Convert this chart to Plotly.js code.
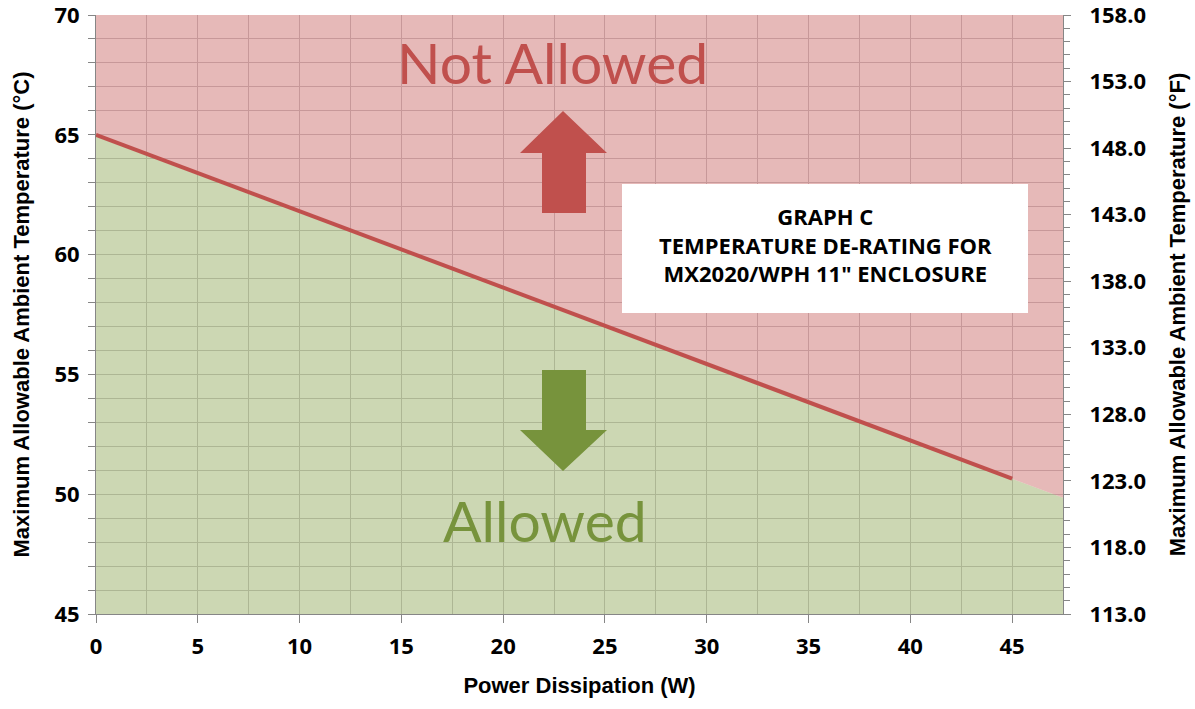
<!DOCTYPE html>
<html>
<head>
<meta charset="utf-8">
<script src="https://cdn.plot.ly/plotly-3.0.1.min.js"></script>
<style>html,body{margin:0;padding:0;background:#fff;}#chart{width:1195px;height:709px;}</style>
</head>
<body>
<div id="chart"></div>
<script>
// De-rating line (°C vs W)
var powerW = [0, 45];
var maxTempC = [65, 50.65];
// Allowed region boundary (area series extends to the axis end)
var areaPowerW = [0, 47.5];
var areaTempC = [65, 49.85];
var topTempC = [70, 70];
// Axis ranges / ticks
var xRange = [0, 47.5];
var yRangeC = [45, 70];
var yRangeF = [113, 158];
var titleLines = ["GRAPH C", "TEMPERATURE DE-RATING FOR", "MX2020/WPH 11\" ENCLOSURE"];

var maxTempF = maxTempC.map(function (c) { return c * 9 / 5 + 32; });

var tickFont = {family: "Open Sans, sans-serif", size: 22, color: "#000", weight: 700};
var axTitleFont = {family: "Liberation Sans, Arial, sans-serif", size: 22, color: "#000", weight: "bold"};
var gridC = "#BAB6BA";
var axC = "#868686";

var traces = [
  {x: areaPowerW, y: areaTempC, type: "scatter", mode: "lines", line: {width: 0}, fill: "tozeroy",
   fillcolor: "rgba(162,182,117,0.55)", hoverinfo: "skip", showlegend: false},
  {x: areaPowerW, y: topTempC, type: "scatter", mode: "lines", line: {width: 0}, fill: "tonexty",
   fillcolor: "rgba(210,128,126,0.55)", hoverinfo: "skip", showlegend: false},
  {x: powerW, y: maxTempC, type: "scatter", mode: "lines", line: {color: "#C0504D", width: 4},
   showlegend: false},
  {x: powerW, y: maxTempF, yaxis: "y2", type: "scatter", mode: "lines", line: {width: 0},
   opacity: 0, hoverinfo: "skip", showlegend: false}
];

function X(px) { return (px - 96) / (967 / 47.5); }
function Y(py) { return 70 - (py - 15) / (599 / 25); }

function upArrow() {
  var p = [[563,111],[607,153],[586,153],[586,213],[542,213],[542,153],[520,153]];
  return "M" + p.map(function (q) { return X(q[0]) + "," + Y(q[1]); }).join(" L") + " Z";
}
function downArrow() {
  var p = [[563,471],[607,430],[586,430],[586,370],[542,370],[542,430],[520,430]];
  return "M" + p.map(function (q) { return X(q[0]) + "," + Y(q[1]); }).join(" L") + " Z";
}

var layout = {
  width: 1195, height: 709,
  margin: {l: 96, r: 132, t: 15, b: 95},
  paper_bgcolor: "#fff", plot_bgcolor: "#fff",
  showlegend: false,
  xaxis: {
    range: xRange, dtick: 5, tick0: 0, showgrid: true, gridcolor: gridC, gridwidth: 1,
    minor: {dtick: 2.5, showgrid: true, gridcolor: gridC, gridwidth: 1, ticks: ""},
    ticks: "outside", ticklen: 8, tickcolor: axC, showline: true, linecolor: axC, linewidth: 1,
    zeroline: false, tickfont: tickFont, ticklabelstandoff: 5, ticklabeloverflow: "allow",
    title: {text: "<b>Power Dissipation (W)</b>", font: axTitleFont, standoff: 18}
  },
  yaxis: {
    range: yRangeC, dtick: 5, tick0: 45, showgrid: true, gridcolor: gridC, gridwidth: 1,
    minor: {dtick: 1, showgrid: true, gridcolor: gridC, gridwidth: 1, ticks: "outside", ticklen: 7, tickcolor: axC},
    ticks: "outside", ticklen: 7, tickcolor: axC, showline: true, linecolor: axC, linewidth: 1,
    zeroline: false, tickfont: tickFont, ticklabelstandoff: 4, ticklabeloverflow: "allow",
    title: {text: "<b>Maximum Allowable Ambient Temperature (°C)</b>", font: axTitleFont, standoff: 18}
  },
  yaxis2: {
    range: yRangeF, overlaying: "y", side: "right", dtick: 5, tick0: 113, tickformat: ".1f",
    showgrid: false, zeroline: false,
    minor: {dtick: 1, ticks: "outside", ticklen: 6, tickcolor: axC, showgrid: false},
    ticks: "outside", ticklen: 7, tickcolor: axC, showline: true, linecolor: axC, linewidth: 1,
    tickfont: tickFont, ticklabelstandoff: 14, ticklabeloverflow: "allow",
    title: {text: "<b>Maximum Allowable Ambient Temperature (°F)</b>", font: axTitleFont, standoff: 24}
  },
  shapes: [
    {type: "path", xref: "x", yref: "y", path: upArrow(), fillcolor: "#C0504D", line: {width: 0}},
    {type: "path", xref: "x", yref: "y", path: downArrow(), fillcolor: "#77933C", line: {width: 0}},
    {type: "rect", xref: "x", yref: "y", x0: X(622), x1: X(1028), y0: Y(313), y1: Y(184),
     fillcolor: "#fff", line: {width: 0}}
  ],
  annotations: [
    {x: X(552), y: Y(62), xref: "x", yref: "y", text: "Not Allowed", showarrow: false,
     font: {family: "Lato, Carlito, sans-serif", size: 57, color: "#C0504D"}},
    {x: X(545), y: Y(520), xref: "x", yref: "y", text: "Allowed", showarrow: false,
     font: {family: "Lato, Carlito, sans-serif", size: 57, color: "#77933C"}},
    {x: X(825), y: Y(244), xref: "x", yref: "y", text: "<b>" + titleLines.join("<br>") + "</b>", showarrow: false,
     align: "center", font: {family: "Open Sans, sans-serif", size: 22, color: "#000", weight: 700}}
  ]
};

Plotly.newPlot("chart", traces, layout, {displayModeBar: false, staticPlot: true});
</script>
</body>
</html>
